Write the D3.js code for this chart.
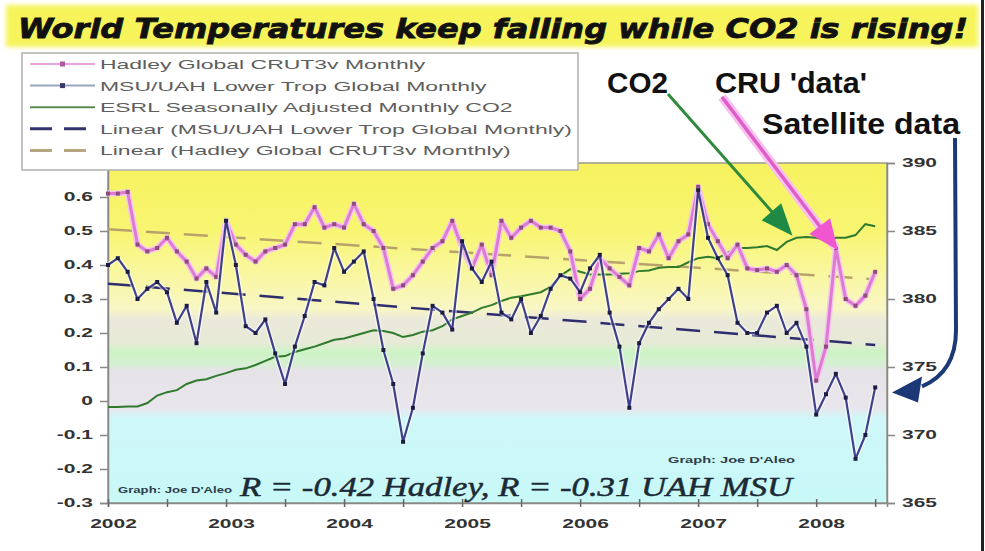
<!DOCTYPE html>
<html><head><meta charset="utf-8">
<script src="https://cdn.jsdelivr.net/npm/d3@7"></script>
<style>body{margin:0;background:#fff;} svg{display:block;}</style>
</head><body>
<svg id="c" width="985" height="551"></svg>
<script>
// ---- DATA (monthly, Jan 2002 .. Jul 2008) ----
const startYear = 2002;
const hadley = [0.61,0.61,0.615,0.46,0.44,0.45,0.48,0.44,0.41,0.36,0.39,0.365,
  0.53,0.46,0.43,0.41,0.44,0.45,0.46,0.52,0.52,0.57,0.51,0.52,
  0.51,0.58,0.52,0.50,0.45,0.33,0.34,0.37,0.41,0.45,0.47,0.53,
  0.45,0.39,0.46,0.37,0.53,0.48,0.51,0.53,0.51,0.51,0.50,0.44,
  0.30,0.33,0.42,0.39,0.365,0.34,0.45,0.44,0.49,0.42,0.47,0.49,
  0.63,0.52,0.47,0.42,0.46,0.39,0.385,0.39,0.38,0.40,0.37,0.27,
  0.06,0.16,0.45,0.30,0.28,0.31,0.38];
const uah = [0.40,0.42,0.38,0.30,0.33,0.35,0.32,0.23,0.28,0.17,0.35,0.26,
  0.53,0.40,0.22,0.20,0.24,0.14,0.05,0.16,0.25,0.35,0.34,0.45,
  0.38,0.41,0.44,0.30,0.15,0.05,-0.12,-0.02,0.14,0.28,0.26,0.21,
  0.47,0.39,0.35,0.41,0.26,0.24,0.30,0.20,0.25,0.33,0.37,0.36,
  0.32,0.39,0.43,0.26,0.16,-0.02,0.17,0.23,0.27,0.30,0.33,0.30,
  0.62,0.48,0.42,0.37,0.23,0.20,0.20,0.26,0.28,0.20,0.23,0.16,
  -0.04,0.02,0.08,0.01,-0.17,-0.10,0.04];
const co2 = [372.06,372.06,372.1,372.1,372.35,372.9,373.15,373.3,373.75,374.0,374.1,374.35,
  374.55,374.8,374.9,375.15,375.45,375.75,375.8,376.1,376.3,376.5,376.75,377.0,
  377.1,377.3,377.5,377.7,377.65,377.5,377.2,377.35,377.6,377.7,378.0,378.5,
  378.75,379.0,379.35,379.55,379.85,380.1,380.2,380.35,380.5,380.9,381.7,382.2,
  382.0,381.8,381.8,381.8,381.85,381.9,382.05,382.1,382.3,382.35,382.35,382.7,
  383.0,383.1,383.0,383.4,383.75,383.75,383.8,383.9,383.6,384.2,384.5,384.55,
  384.5,384.35,384.5,384.5,384.7,385.5,385.35];
const hadleyTrend = [0.505, 0.358];   // linear fit value at first and last month
const uahTrend = [0.345, 0.165];
const yearLabels = ["2002","2003","2004","2005","2006","2007","2008"];
const leftTicks = [0.6,0.5,0.4,0.3,0.2,0.1,0,-0.1,-0.2,-0.3];
const leftLabels = ["0.6","0.5","0.4","0.3","0.2","0.1","0","-0.1","-0.2","-0.3"];
const rightTicks = [390,385,380,375,370,365];
const legendLabels = ["Hadley Global CRUT3v Monthly","MSU/UAH Lower Trop Global Monthly",
  "ESRL Seasonally Adjusted Monthly CO2","Linear (MSU/UAH Lower Trop Global Monthly)",
  "Linear (Hadley Global CRUT3v Monthly)"];
const title = "World Temperatures keep falling while CO2 is rising!";
const statText = "R = -0.42 Hadley,  R = -0.31 UAH MSU";
const credit = "Graph: Joe D'Aleo";

// ---- LAYOUT ----
const svg = d3.select("#c");
const L = 108, R = 887, T = 163, B = 503;
const x = d3.scaleLinear().domain([2002, 2008.6]).range([L, R]);
const y = d3.scaleLinear().domain([-0.3, 0.7]).range([B, T]);
const y2 = d3.scaleLinear().domain([365, 390]).range([B, T]);
const tm = i => startYear + i / 12;
const sans = "Liberation Sans, Arial, sans-serif";

const defs = svg.append("defs");
const g = defs.append("linearGradient").attr("id","bg").attr("gradientUnits","userSpaceOnUse")
  .attr("x1",0).attr("x2",0).attr("y1",T).attr("y2",B);
const bandStops = [[0.7,"#f6f25e"],[0.5,"#f8f572"],[0.38,"#f9f79e"],[0.27,"#f8f6c4"],[0.24,"#ebe9da"],
  [0.17,"#e6ead6"],[0.145,"#cdf3c6"],[0.11,"#d4f0d0"],[0.09,"#e6e3e8"],[-0.02,"#e8e6ec"],
  [-0.05,"#cff7f7"],[-0.3,"#c8f8f8"]];
bandStops.forEach(([v,c]) => g.append("stop").attr("offset",(y(v)-T)/(B-T)).attr("stop-color",c));
const blur = defs.append("filter").attr("id","soft").attr("x","-5%").attr("y","-30%").attr("width","110%").attr("height","160%");
blur.append("feGaussianBlur").attr("stdDeviation",2);

// title band
svg.append("rect").attr("x",6).attr("y",5).attr("width",972).attr("height",42)
  .attr("fill","#f6f45a").attr("filter","url(#soft)");
svg.append("text").attr("x",18).attr("y",38).text(title)
  .attr("font-family","DejaVu Sans, sans-serif").attr("font-weight","bold").attr("font-style","italic")
  .attr("font-size",27).attr("fill","#111").attr("stroke","#111").attr("stroke-width",0.8)
  .attr("textLength",950).attr("lengthAdjust","spacingAndGlyphs");

// plot area
svg.append("rect").attr("x",L).attr("y",T).attr("width",R-L).attr("height",B-T).attr("fill","url(#bg)");
svg.append("rect").attr("x",L).attr("y",T).attr("width",R-L).attr("height",B-T)
  .attr("fill","none").attr("stroke","#9a9a8a").attr("stroke-width",1.5);

// axes
function stretch(sel, sx, anchor) {
  sel.each(function(){
    const t = d3.select(this);
    const xx = +t.attr("x") || 0;
    t.attr("x",0).attr("transform",`translate(${xx},0) scale(${sx},1)`).attr("text-anchor",anchor);
  });
}
const ax = svg.append("g").attr("transform",`translate(${L},0)`)
  .call(d3.axisLeft(y).tickValues(leftTicks).tickSize(8).tickPadding(7).tickFormat((d,i)=>leftLabels[i]));
ax.select(".domain").attr("stroke","#888").attr("stroke-width",1.5);
ax.selectAll(".tick line").attr("stroke","#888").attr("stroke-width",1.5);
ax.selectAll("text").attr("font-family",sans).attr("font-size",12).attr("fill","#333").attr("font-weight","bold");
stretch(ax.selectAll("text"),1.75,"end");

const ay = svg.append("g").attr("transform",`translate(${R},0)`)
  .call(d3.axisRight(y2).tickValues(rightTicks).tickSize(8).tickPadding(7));
ay.select(".domain").attr("stroke","#888").attr("stroke-width",1.5);
ay.selectAll(".tick line").attr("stroke","#888").attr("stroke-width",1.5);
ay.selectAll("text").attr("font-family",sans).attr("font-size",12).attr("fill","#333").attr("font-weight","bold");
stretch(ay.selectAll("text"),1.75,"start");

const halfYears = d3.range(2002, 2008.51, 0.5);
const axb = svg.append("g").attr("transform",`translate(0,${B})`)
  .call(d3.axisBottom(x).tickValues(halfYears).tickSize(4).tickPadding(12)
    .tickFormat(d => Number.isInteger(d) ? yearLabels[d-2002] : ""));
axb.select(".domain").attr("stroke","#888").attr("stroke-width",1.5);
axb.selectAll(".tick line").attr("stroke","#666").attr("y1",-4).attr("stroke-width",1.5);
axb.selectAll("text").attr("font-family",sans).attr("font-size",12).attr("fill","#333").attr("font-weight","bold");
axb.selectAll(".tick text").each(function(){
  d3.select(this).attr("transform","translate(5,0) scale(1.75,1)").attr("text-anchor","middle");
});

// series
const lineT = d3.line().x((d,i)=>x(tm(i))).y(d=>y(d));
const lineC = d3.line().x((d,i)=>x(tm(i))).y(d=>y2(d));
const last = hadley.length - 1;

// trend lines
svg.append("line").attr("x1",x(tm(0))).attr("x2",x(tm(last))).attr("y1",y(hadleyTrend[0])).attr("y2",y(hadleyTrend[1]))
  .attr("stroke","#b7a26c").attr("stroke-width",2.5).attr("stroke-dasharray","24,14");
svg.append("line").attr("x1",x(tm(0))).attr("x2",x(tm(last))).attr("y1",y(uahTrend[0])).attr("y2",y(uahTrend[1]))
  .attr("stroke","#2e2e6e").attr("stroke-width",2.5).attr("stroke-dasharray","24,14");

// CO2
svg.append("path").datum(co2).attr("d",lineC).attr("fill","none").attr("stroke","#2f7a2c").attr("stroke-width",2);

// Hadley
svg.append("path").datum(hadley).attr("d",lineT).attr("fill","none").attr("stroke","#f2c8ee").attr("stroke-width",6).attr("stroke-linejoin","round");
svg.append("path").datum(hadley).attr("d",lineT).attr("fill","none").attr("stroke","#df7ad2").attr("stroke-width",3).attr("stroke-linejoin","round");
svg.selectAll(".mh").data(hadley).join("rect").attr("class","mh")
  .attr("x",(d,i)=>x(tm(i))-2).attr("y",d=>y(d)-2).attr("width",4).attr("height",4).attr("fill","#8e4c78");

// UAH
svg.append("path").datum(uah).attr("d",lineT).attr("fill","none").attr("stroke","#ffffff").attr("stroke-opacity",0.55).attr("stroke-width",5).attr("stroke-linejoin","round");
svg.append("path").datum(uah).attr("d",lineT).attr("fill","none").attr("stroke","#2b2b7e").attr("stroke-opacity",0.9).attr("stroke-width",2.2).attr("stroke-linejoin","round");
svg.selectAll(".mu").data(uah).join("rect").attr("class","mu")
  .attr("x",(d,i)=>x(tm(i))-2).attr("y",d=>y(d)-2).attr("width",4).attr("height",4).attr("fill","#1c1c40");

// texts in plot
svg.append("text").attr("x",240).attr("y",496).text(statText)
  .attr("font-family","Liberation Serif, Times New Roman, serif").attr("font-style","italic")
  .attr("font-size",28).attr("fill","#1b2a36").attr("stroke","#1b2a36").attr("stroke-width",0.5)
  .attr("textLength",552).attr("lengthAdjust","spacingAndGlyphs");
svg.append("text").attr("x",118).attr("y",493).text(credit)
  .attr("font-family",sans).attr("font-weight","bold").attr("font-size",9.5).attr("fill","#2d3d4a")
  .attr("textLength",114).attr("lengthAdjust","spacingAndGlyphs");
svg.append("text").attr("x",668).attr("y",463).text(credit)
  .attr("font-family",sans).attr("font-weight","bold").attr("font-size",9.5).attr("fill","#2d3d4a")
  .attr("textLength",127).attr("lengthAdjust","spacingAndGlyphs");

// legend
const lg = svg.append("g");
lg.append("rect").attr("x",22).attr("y",53).attr("width",556).attr("height",117)
  .attr("fill","#fff").attr("stroke","#b0b0b0").attr("stroke-width",1.5);
const rowY = i => 64 + i * 21.6;
const sx0 = 30, sx1 = 95;
lg.append("line").attr("x1",sx0).attr("x2",sx1).attr("y1",rowY(0)).attr("y2",rowY(0)).attr("stroke","#e8a6de").attr("stroke-width",2);
lg.append("rect").attr("x",(sx0+sx1)/2-2.5).attr("y",rowY(0)-2.5).attr("width",5).attr("height",5).attr("fill","#b05aa0");
lg.append("line").attr("x1",sx0).attr("x2",sx1).attr("y1",rowY(1)).attr("y2",rowY(1)).attr("stroke","#9aa4bf").attr("stroke-width",2);
lg.append("rect").attr("x",(sx0+sx1)/2-2.5).attr("y",rowY(1)-2.5).attr("width",5).attr("height",5).attr("fill","#3a3a6a");
lg.append("line").attr("x1",sx0).attr("x2",sx1).attr("y1",rowY(2)).attr("y2",rowY(2)).attr("stroke","#5c8c4c").attr("stroke-width",2);
lg.append("line").attr("x1",sx0).attr("x2",sx1).attr("y1",rowY(3)).attr("y2",rowY(3)).attr("stroke","#33336e").attr("stroke-width",3).attr("stroke-dasharray","22,12");
lg.append("line").attr("x1",sx0).attr("x2",sx1).attr("y1",rowY(4)).attr("y2",rowY(4)).attr("stroke","#b7a680").attr("stroke-width",3).attr("stroke-dasharray","22,12");
const lt = lg.selectAll(".lt").data(legendLabels).join("text").attr("class","lt")
  .attr("x",100).attr("y",(d,i)=>rowY(i)+5).text(d=>d)
  .attr("font-family",sans).attr("font-size",13).attr("fill","#5e5e5e");
let maxW = 0; lt.each(function(){ maxW = Math.max(maxW, this.getComputedTextLength()); });
const ls = 472 / maxW;
lt.each(function(){ d3.select(this).attr("textLength", this.getComputedTextLength()*ls).attr("lengthAdjust","spacingAndGlyphs"); });

// annotations
function head(tipX, tipY, fromX, fromY, len, wid, color) {
  const a = Math.atan2(tipY-fromY, tipX-fromX);
  const bx = tipX - len*Math.cos(a), by = tipY - len*Math.sin(a);
  const px = -Math.sin(a)*wid/2, py = Math.cos(a)*wid/2;
  svg.append("path").attr("d",`M${tipX},${tipY}L${bx+px},${by+py}L${bx-px},${by-py}Z`).attr("fill",color);
}
const ann = (t, xx, yy, w) => svg.append("text").attr("x",xx).attr("y",yy).text(t)
  .attr("font-family",sans).attr("font-weight","bold").attr("font-size",29).attr("fill","#111")
  .attr("textLength",w).attr("lengthAdjust","spacingAndGlyphs");
ann("CO2", 607, 93, 61);
ann("CRU 'data'", 715, 93, 152);
ann("Satellite data", 762, 134, 198);

// green arrow -> CO2 line
const gTip = [x(tm(70)) - 4, y2(co2[70]) - 2];
svg.append("line").attr("x1",668).attr("y1",94).attr("x2",gTip[0]-10).attr("y2",gTip[1]-12).attr("stroke","#2f8a3e").attr("stroke-width",3);
head(gTip[0], gTip[1], 668, 94, 32, 26, "#1f8a45");
// pink arrow -> Hadley line
const pTip = [x(tm(74)), y(hadley[74])];
svg.append("line").attr("x1",722).attr("y1",97).attr("x2",pTip[0]).attr("y2",pTip[1]).attr("stroke","#f7c2ee").attr("stroke-width",9);
svg.append("line").attr("x1",722).attr("y1",97).attr("x2",pTip[0]-8).attr("y2",pTip[1]-11).attr("stroke","#e25cc8").attr("stroke-width",3.5);
head(pTip[0]+2, pTip[1]+2, 722, 97, 30, 26, "#f056cf");
// blue curved arrow -> satellite line
const bTip = [R + 5, y(uah[last]) + 5];
svg.append("path").attr("d",`M955,138 L956,330 Q956,372 ${bTip[0]+30},${bTip[1]-6}`)
  .attr("fill","none").attr("stroke","#1d3877").attr("stroke-width",4);
svg.append("path").attr("d",`M${bTip[0]},${bTip[1]} L${bTip[0]+30},${bTip[1]-16} L${bTip[0]+26},${bTip[1]+10}Z`).attr("fill","#1d3877");

// right frame edge
svg.append("rect").attr("x",981).attr("y",0).attr("width",3).attr("height",551).attr("fill","#222");
</script>
</body></html>
